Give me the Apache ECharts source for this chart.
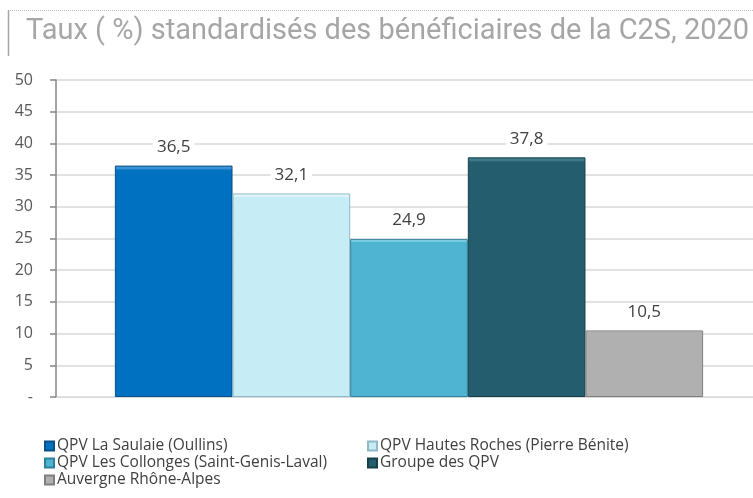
<!DOCTYPE html>
<html>
<head>
<meta charset="utf-8">
<style>
  html, body { margin: 0; padding: 0; background: #fff; }
  #chart { width: 753px; height: 498px; }
</style>
<script src="https://cdn.jsdelivr.net/npm/echarts@6/dist/echarts.min.js"></script>
</head>
<body>
<div id="chart"></div>
<script>
// Standardised C2S beneficiary rates, 2020
const titleText = 'Taux ( %) standardisés des bénéficiaires de la C2S, 2020';
const categories = ['2020'];
const seriesNames = [
  'QPV La Saulaie (Oullins)',
  'QPV Hautes Roches (Pierre Bénite)',
  'QPV Les Collonges (Saint-Genis-Laval)',
  'Groupe des QPV',
  'Auvergne Rhône-Alpes'
];
const seriesValues = [36.5, 32.1, 24.9, 37.8, 10.5];
const yTicks = { min: 0, max: 50, step: 5 };

const fills = ['#0070C0', '#C6ECF6', '#4FB4D1', '#245E6E', '#B0B0B0'];
const edges = ['#0A4F86', '#8FB9C6', '#2F8199', '#173E49', '#7F7F7F'];
const tops  = ['#3C93D6', '#E6F7FC', '#8AD9EE', '#3F7C8C', '#D0D0D0'];

const bodyFont = '"Open Sans", "Noto Sans", sans-serif';

// Bars live in the second grid (index 1); the first grid carries the visible value axis.
const series = seriesNames.map((name, i) => ({
  name: name,
  type: 'bar',
  xAxisIndex: 1,
  yAxisIndex: 1,
  barGap: '0%',
  barCategoryGap: '14.5%',
  data: [seriesValues[i]],
  itemStyle: {
    color: {
      type: 'linear', x: 0, y: 0, x2: 0, y2: 1,
      colorStops: [
        { offset: 0, color: tops[i] },
        { offset: 0.012, color: tops[i] },
        { offset: 0.02, color: fills[i] },
        { offset: 1, color: fills[i] }
      ]
    },
    borderColor: edges[i],
    borderWidth: 1
  },
  label: {
    show: true,
    position: 'top',
    distance: 10,
    color: '#404040',
    fontFamily: bodyFont,
    fontSize: 17,
    backgroundColor: '#ffffff',
    padding: [0, 4],
    formatter: p => String(p.value).replace('.', ',')
  }
}));

const legendCommon = {
  orient: 'vertical',
  icon: 'rect',
  itemWidth: 9,
  itemHeight: 9,
  itemGap: 1,
  padding: 0,
  selectedMode: false,
  textStyle: { color: '#404040', fontFamily: bodyFont, fontSize: 15.5, padding: [0, 0, 0, -2] }
};

const chart = echarts.init(document.getElementById('chart'), null, { renderer: 'canvas' });
chart.setOption({
  animation: false,
  backgroundColor: '#ffffff',
  color: fills,
  title: {
    text: titleText,
    left: 26,
    top: 17,
    padding: 0,
    textStyle: {
      color: '#A6A6A6',
      fontFamily: 'Roboto, sans-serif',
      fontWeight: 'normal',
      fontSize: 29
    }
  },
  graphic: [
    { type: 'line', shape: { x1: 8.5, y1: 10, x2: 8.5, y2: 56 }, style: { stroke: '#A6A6A6', lineWidth: 1.5 } },
    { type: 'line', shape: { x1: 10, y1: 10.5, x2: 753, y2: 10.5 }, style: { stroke: '#BFBFBF', lineWidth: 1, lineDash: [1, 1] } }
  ],
  legend: [
    Object.assign({ left: 44, top: 438, data: [seriesNames[0], seriesNames[2], seriesNames[4]] }, legendCommon),
    Object.assign({ left: 367, top: 438, data: [seriesNames[1], seriesNames[3]] }, legendCommon)
  ],
  grid: [
    { left: 56, right: 0, top: 80, bottom: 101, containLabel: false },
    { left: 65, right: 0, top: 80, bottom: 101, containLabel: false }
  ],
  xAxis: [
    {
      type: 'category', gridIndex: 0, data: categories,
      axisLine: { show: true, lineStyle: { color: '#D9D9D9' } },
      axisTick: { show: false }, axisLabel: { show: false }
    },
    {
      type: 'category', gridIndex: 1, data: categories,
      axisLine: { show: false }, axisTick: { show: false }, axisLabel: { show: false }
    }
  ],
  yAxis: [
    {
      type: 'value', gridIndex: 0,
      min: yTicks.min, max: yTicks.max, interval: yTicks.step,
      axisLine: { show: true, lineStyle: { color: '#868686', width: 1.5 } },
      axisTick: { show: true, length: 6, lineStyle: { color: '#868686', width: 1.5 } },
      splitLine: { show: true, lineStyle: { color: '#D9D9D9', width: 1.5 } },
      axisLabel: {
        margin: 23,
        color: '#595959',
        fontFamily: bodyFont,
        fontSize: 16,
        formatter: v => (v === 0 ? '-' : String(v))
      }
    },
    {
      type: 'value', gridIndex: 1,
      min: yTicks.min, max: yTicks.max, interval: yTicks.step,
      show: false, splitLine: { show: false }
    }
  ],
  series: series
});
</script>
</body>
</html>
